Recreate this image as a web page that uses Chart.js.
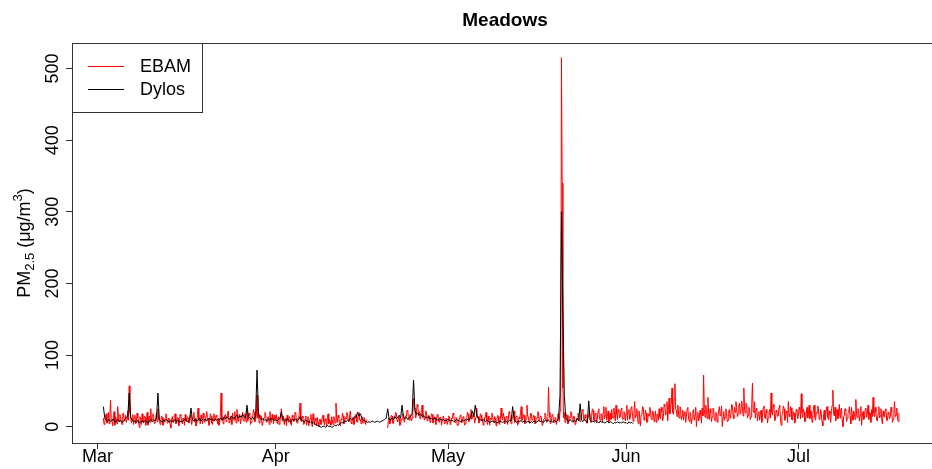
<!DOCTYPE html>
<html>
<head>
<meta charset="utf-8">
<title>Meadows</title>
<script src="https://cdn.jsdelivr.net/npm/chart.js@4.4.1/dist/chart.umd.min.js"></script>
<style>
  html, body { margin: 0; padding: 0; background: #fff; overflow: hidden; }
  #wrap { width: 932px; height: 469px; }
</style>
</head>
<body>
<div id="wrap"><canvas id="chart" width="932" height="469"></canvas></div>
<script>
/* global Chart */
const FONT = '"Liberation Sans", Arial, sans-serif';
const chartTitle = "Meadows";
const seriesNames = ["EBAM", "Dylos"];

// x axis is days since 1 Mar
const monthTicks = [0, 31, 61, 92, 122];
const monthLabels = ["Mar", "Apr", "May", "Jun", "Jul"];
const yTicks = [0, 100, 200, 300, 400, 500];
const ebamStep = 0.125; // 3-hourly readings
const dylosStep = 0.25; // 6-hourly

// EBAM, from 2 Mar
const ebamMar = [
  12, 3, 6, 15, 18, 5, 9, 20, 4, 13, 37, 10, 8, 1, 15, 21, 2, 14, 11, 4, 28, 12, 7, 17, 14, 6, 3, 18, 19, 8, 10, 16, 6, 11, 22, 9, 57, 20, 14, 5,
  9, 17, 3, 12, 16, 4, 7, 19, 12, 8, -1, 14, 10, 3, 18, 7, 5, 15, 13, 2, 8, 20, 2, 11, 15, 6, 25, 9, 9, 18, 14, 4, 6, 13, 19, 7, 25, 10, 11, 3,
  7, 15, 13, 2, 4, 11, 10, 18, 16, 5, 6, 12, 11, 3, -2, 9, 14, 6, 8, 16, 18, 4, 5, 13, 12, 1, 9, 17, 15, 7, 4, 12, 10, 2, 17, 8, 7, 14, 12, 5,
  6, 16, 14, 3, 9, 12, 20, 7, 11, 1, 5, 17, 26, 9, 10, 4, 16, 11, 4, 19, 13, 6, 8, 15, 21, 10, 12, 2, 7, 18, 15, 5, 3, 13, 18, 8, 9, 16, 14, 4,
  11, 2, 6, 18, 47, 9, 13, 4, 8, 16, 17, 7, 10, 19, 22, 6, 5, 13, 14, 3, 19, 10, 9, 21, 12, 5, 24, 11, 7, 17, 16, 4, 11, 14, 20, 8, 8, 18, 15, 6,
  22, 8, 10, 19, 17, 3, 6, 14, 13, 24, 20, 7, 9, 15, 44, 12, 18, 5, 7, 16, 15, 2, 4, 12, 12, 20, 18, 6, 8, 13, 14, 3, 21, 9, 6, 17, 11, 4, 16, 10
];
const ebamApr = [
  10, 17, 4, 12, 14, 3, 7, 18, 25, 8, 9, 15, 3, 11, 12, 1, 16, 9, 6, 14, 11, 4, 2, 16, 13, 7, 8, 20, 19, 6, 5, 12, 10, 21, 33, 9, 7, 15, 12, 3,
  4, 11, 15, 2, 9, 14, 1, 8, 11, 17, 6, 0, 18, 9, 3, 12, 8, 1, 13, 6, 0, 10, 10, 3, 5, 15, 16, 7, 2, 11, 9, 1, 12, 18, 4, 10, 7, 2, 14, 8,
  3, 14, 10, 5, 33, 12, 6, 16, 12, 2, 1, 10, 9, 19, 15, 4, 5, 13, 11, 20, 18, 8, 7, 15, 22, 6, 4, 12, 13, 3, 9, 17, 16, 7, 6, 14, 20, 9, 10, 4,
  14, 6, 5, 13, 11, 3, 8, 10, null, null, null, null, null, null, null, null, null, null, null, null, null, null,
  null, null, null, null, null, null, null, null, null, null, null, null, null, null, -2, 9, 12, 4,
  8, 16, 15, 5, 4, 13, 12, 20, 19, 9, 7, 14, 13, 2, 3, 11, 10, 18, 17, 6, 6, 15, 14, 23, 22, 10, 9, 17, 16, 8, 12, 20, 39, 26, 24, 12, 18, 31, 28, 15,
  21, 11, 14, 24, 30, 13, 17, 9, 12, 22, 19, 8, 9, 16, 15, 6, 11, 18, 17, 5, 7, 14, 13, 3, 10, 17, 16, 7, 6, 13, 12, 2, 9, 15, 14, 4, 5, 12, 11, 3
];
const ebamMay = [
  8, 15, 14, 3, 5, 12, 11, 19, 17, 6, 6, 13, 12, 1, 3, 10, 10, 16, 15, 5, 7, 14, 13, 2, 4, 11, 11, 20, 18, 7, 8, 15, 24, 10, 12, 18, 19, 5, 9, 14,
  26, 12, 14, 5, 7, 18, 16, 8, 11, 2, 4, 13, 13, 20, 9, 3, 15, 9, 2, 12, 10, 19, 17, 7, 6, 14, 12, 1, 8, 16, 14, 5, 3, 11, 26, 14, 9, 19, 13, 4,
  6, 14, 15, 3, 10, 21, 19, 8, 4, 12, 12, 17, 22, 6, 8, 15, 14, 2, 5, 13, 11, 20, 28, 10, 9, 17, 16, 4, 6, 12, 30, 15, 13, 5, 7, 19, 18, 9, 10, 16,
  15, 4, 5, 12, 12, 21, 20, 8, 8, 15, 14, 2, 3, 10, 11, 19, 17, 6, 7, 14, 55, 20, 13, 4, 9, 17, 16, 6, 6, 13, 12, 3, 10, 18, 18, 7, 22, 30, 515, 340,
  54, 12, 20, 6, 10, 17, 16, 4, 6, 14, 13, 21, 20, 9, 8, 15, 14, 3, 4, 12, 11, 19, 18, 8, 7, 16, 15, 24, 22, 10, 9, 17, 12, 5, 5, 14, 17, 22, 10, 6,
  14, 25, 23, 9, 8, 19, 18, 5, 12, 22, 25, 11, 9, 18, 16, 6, 20, 28, 11, 16, 27, 9, 14, 22, 7, 15, 19, 10, 24, 13, 12, 26, 17, 8, 30, 18, 10, 24, 21, 12,
  15, 24, 26, 10, 11, 21, 19, 8
];
const ebamJun = [
  18, 30, 9, 21, 24, 10, 13, 27, 28, 14, 7, 19, 35, 12, 16, 25, 11, 4, 22, 13, 1, 16, 17, 28, 26, 9, 12, 23, 19, 6, 8, 18, 15, 27, 23, 11, 10, 22, 20, 7,
  13, 22, 6, 17, 18, 9, 25, 14, 11, 27, 21, 8, 14, 31, 29, 16, 19, 35, 8, 24, 40, 18, 24, 33, 54, 20, 17, 38, 60, 26, 22, 14, 30, 19, 12, 28, 26, 10, 15, 23,
  9, 18, 21, 6, 14, 25, 27, 12, 7, 20, 18, 4, 12, 22, 24, 9, 16, 27, 0, 14, 20, 8, 11, 23, 17, 5, 26, 15, 72, 24, 13, 30, 22, 11, 41, 17, 10, 25, 19, 7,
  14, 26, 25, 10, 8, 20, 19, 6, 12, 23, 28, 15, 16, 29, 0, 13, 21, 9, 13, 25, 18, 7, 9, 22, 24, 12, 15, 31, 30, 16, 11, 27, 20, 35, 27, 14, 17, 29, 33, 18,
  22, 36, 28, 15, 54, 24, 19, 33, 31, 12, 16, 27, 25, 10, 14, 30, 61, 22, 20, 35, 12, 24, 26, 8, 18, 21, 9, 17, 23, 6, 15, 26, 29, 13, 11, 24, 19, 5, 13, 20,
  24, 12, 47, 20, 16, 31, 28, 8, 10, 23, 21, 14, 15, 27, 30, 11, 2, 16, 18, 29, 25, 9, 12, 22, 20, 6, 35, 17, 14, 28, 26, 10, 9, 21, 19, 5, 13, 24, 22, 11
];
const ebamJul = [
  16, 27, 24, 11, 46, 19, 13, 25, 20, 7, 8, 18, 27, 12, 17, 30, 11, 22, 22, 6, 15, 26, 30, 13, 9, 20, 19, 29, 25, 10, 12, 24, 18, 6, 1, 15, 23, 9, 14, 26,
  28, 13, 10, 22, 17, 6, 21, 30, 51, 18, 15, 27, 8, 20, 24, 11, 19, 31, 12, 23, 26, 9, 0, 14, 16, 25, 22, 7, 11, 19, 20, 28, 14, 4, 27, 16, 9, 22, 18, 10,
  38, 17, 13, 25, 23, 8, 16, 28, 2, 15, 21, 10, 12, 24, 26, 13, 17, 30, 10, 20, 19, 6, 24, 14, 41, 19, 14, 27, 20, 9, 8, 18, 28, 12, 15, 25, 11, 4, 22, 15,
  13, 24, 25, 8, 9, 20, 18, 11, 14, 27, 21, 6, 10, 22, 35, 14, 16, 26, 12, 7, 19
];

// Dylos, from 2 Mar
const dylosMar = [
  28, 12, 9, 8, 10, 7, 9, 11, 6, 8, 10, 7, 9, 6, 8, 10, 12, 15, 47, 13,
  9, 7, 8, 6, 9, 5, 7, 8, 6, 9, 7, 5, 8, 10, 7, 9, 8, 12, 47, 10,
  8, 6, 9, 7, 10, 8, 6, 9, 7, 8, 10, 7, 9, 6, 8, 7, 9, 11, 8, 7,
  9, 26, 10, 8, 11, 7, 9, 12, 8, 10, 9, 11, 8, 10, 12, 9, 11, 8, 10, 9,
  11, 10, 12, 9, 13, 11, 14, 12, 10, 15, 13, 11, 14, 16, 12, 15, 13, 17, 14, 12,
  30, 14, 12, 11, 13, 10, 15, 79, 20, 12, 10, 11, 9, 10, 8, 11, 9, 12, 10, 9
];
const dylosApr = [
  9, 8, 10, 12, 20, 10, 9, 8, 11, 9, 7, 8, 10, 9, 11, 8, 10, 14, 9, 8,
  7, 9, 8, 6, 7, 5, 6, 4, 3, 2, 1, 0, -1, 1, 0, -1, 2, 0, 1, -1,
  0, 2, 1, 3, 2, 4, 6, 5, 8, 7, 9, 8, 12, 10, 11, 14, 13, 20, 15, 18,
  12, 9, 8, 7, 6, 7, 6, 8, 7, 6, 7, 8, 6, 7, 8, 9, 10, 12, 25, 11,
  9, 12, 10, 14, 11, 13, 16, 12, 30, 14, 11, 13, 10, 12, 15, 18, 65, 22, 17, 19,
  16, 18, 14, 15, 13, 12, 14, 11, 12, 10, 11, 12, 10, 9, 11, 10, 9, 10, 8, 9
];
const dylosMay = [
  10, 9, 8, 9, 7, 8, 10, 9, 8, 7, 9, 8, 10, 9, 11, 10, 15, 22, 14, 30,
  16, 12, 10, 9, 8, 10, 7, 9, 8, 6, 7, 8, 6, 7, 5, 6, 8, 7, 6, 7,
  8, 6, 7, 9, 8, 28, 10, 7, 6, 8, 7, 9, 6, 8, 7, 6, 8, 5, 7, 6,
  8, 7, 6, 9, 7, 8, 6, 7, 10, 8, 9, 7, 8, 6, 9, 7, 8, 12, 44, 300,
  160, 44, 12, 9, 7, 10, 8, 6, 9, 7, 11, 8, 32, 9, 7, 10, 8, 6, 36, 9,
  7, 8, 6, 9, 7, 5, 8, 6, 7, 5, 6, 8, 5, 7, 6, 4, 6, 5, 7, 5,
  6, 5, 7, 5
];
const dylosJun = [6, 4, 7, 5, 6, 4];

function toPoints(parts, step) {
  const pts = [];
  parts.forEach(([start, vals]) => {
    vals.forEach((v, i) => pts.push({ x: start + i * step, y: v }));
  });
  return pts;
}

const ebam = toPoints([[1, ebamMar], [31, ebamApr], [61, ebamMay], [92, ebamJun], [122, ebamJul]], ebamStep);
const dylos = toPoints([[1, dylosMar], [31, dylosApr], [61, dylosMay], [92, dylosJun]], dylosStep);

// box, title, y label and legend in the R style
const decorPlugin = {
  id: "decor",
  afterDraw(chart) {
    const { ctx, chartArea: a } = chart;
    ctx.save();
    ctx.strokeStyle = "#333";
    ctx.lineWidth = 1;
    ctx.beginPath();
    ctx.moveTo(a.left, a.top + 0.5);
    ctx.lineTo(a.right, a.top + 0.5);
    ctx.stroke();

    ctx.fillStyle = "#000";
    ctx.font = "bold 19px " + FONT;
    ctx.textAlign = "center";
    ctx.textBaseline = "middle";
    ctx.fillText(chartTitle, (a.left + a.right) / 2 + 3, 21);

    // PM2.5 (µg/m3)
    const parts = [["PM", 0, 18], ["2.5", 5, 13], [" (\u03bcg/m", 0, 18], ["3", -7, 13], [")", 0, 18]];
    let total = 0;
    parts.forEach((p) => { ctx.font = p[2] + "px " + FONT; total += ctx.measureText(p[0]).width; });
    ctx.translate(25, (a.top + a.bottom) / 2);
    ctx.rotate(-Math.PI / 2);
    ctx.textAlign = "left";
    let px = -total / 2;
    parts.forEach((p) => {
      ctx.font = p[2] + "px " + FONT;
      ctx.fillText(p[0], px, p[1]);
      px += ctx.measureText(p[0]).width;
    });
    ctx.restore();

    // legend
    ctx.save();
    const lx = a.left, ly = a.top, lw = 130, lh = 69;
    ctx.fillStyle = "#fff";
    ctx.fillRect(lx, ly, lw, lh);
    ctx.strokeStyle = "#333";
    ctx.strokeRect(lx + 0.5, ly + 0.5, lw, lh);
    ctx.font = "18px " + FONT;
    ctx.textBaseline = "middle";
    chart.data.datasets.forEach((ds, i) => {
      const y = ly + 23.5 + i * 23;
      ctx.strokeStyle = ds.borderColor;
      ctx.beginPath();
      ctx.moveTo(lx + 16, y);
      ctx.lineTo(lx + 52, y);
      ctx.stroke();
      ctx.fillStyle = "#000";
      ctx.fillText(ds.label, lx + 68, y + 1);
    });
    ctx.restore();
  }
};

function initChart() {
  const ctx = document.getElementById("chart");
  return new Chart(ctx, {
    type: "line",
    data: {
      datasets: [
        { label: seriesNames[0], data: ebam, borderColor: "#ff0000", borderWidth: 1, pointRadius: 0, tension: 0, order: 2 },
        { label: seriesNames[1], data: dylos, borderColor: "#000000", borderWidth: 1, pointRadius: 0, tension: 0, order: 1 }
      ]
    },
    options: {
      responsive: false,
      animation: false,
      layout: { padding: { top: 43, right: 0, left: 0, bottom: 0 } },
      plugins: { legend: { display: false }, tooltip: { enabled: false } },
      scales: {
        x: {
          type: "linear",
          min: -4.46,
          max: 145.26,
          afterBuildTicks: (s) => { s.ticks = monthTicks.map((v) => ({ value: v })); },
          afterFit: (s) => { s.height = 26; },
          grid: { drawOnChartArea: false, tickLength: 6, color: "#333" },
          border: { color: "#333" },
          ticks: {
            autoSkip: false, maxRotation: 0, padding: -3, color: "#000",
            font: { family: FONT, size: 18 },
            callback: (v, i) => monthLabels[i]
          }
        },
        y: {
          min: -22.8,
          max: 535.6,
          afterBuildTicks: (s) => { s.ticks = yTicks.map((v) => ({ value: v })); },
          afterFit: (s) => { s.width = 72; },
          grid: { drawOnChartArea: false, tickLength: 6, color: "#333" },
          border: { color: "#333" },
          ticks: {
            minRotation: 90, maxRotation: 90, crossAlign: "center", padding: -2, color: "#000",
            font: { family: FONT, size: 18 }
          }
        }
      }
    },
    plugins: [decorPlugin]
  });
}

initChart();
</script>
</body>
</html>
